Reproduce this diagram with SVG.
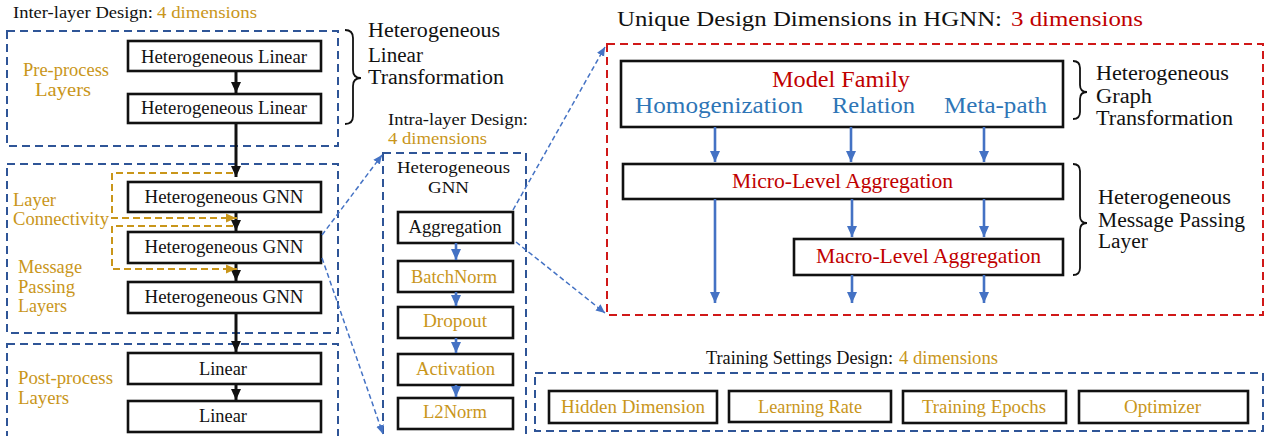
<svg xmlns="http://www.w3.org/2000/svg" width="1271" height="436" viewBox="0 0 1271 436">
<style>
text{font-family:"Liberation Serif","Times New Roman",serif;fill:#111}
.g{fill:#C9961A}
.r{fill:#C00000}
.lb{fill:#2E75B6}
.box{fill:#fff;stroke:#111;stroke-width:2.6}
.dbl{fill:none;stroke:#2F5597;stroke-width:2;stroke-dasharray:8 5}
.dred{fill:none;stroke:#D01818;stroke-width:2;stroke-dasharray:8 5}
.blk{fill:none;stroke:#111;stroke-width:3}
.blu{fill:none;stroke:#4472C4;stroke-width:2.6}
.gld{fill:none;stroke:#C9961A;stroke-width:2;stroke-dasharray:7 4}
.bd{fill:none;stroke:#4472C4;stroke-width:1.5;stroke-dasharray:5 3}
.br{fill:none;stroke:#111;stroke-width:1.8}
.c{text-anchor:middle}
</style>
<defs>
<marker id="ak" markerUnits="userSpaceOnUse" markerWidth="12" markerHeight="12" refX="11" refY="6" orient="auto"><path d="M0,1 L11,6 L0,11 Z" fill="#111"/></marker>
<marker id="ab" markerUnits="userSpaceOnUse" markerWidth="12" markerHeight="12" refX="11" refY="6" orient="auto"><path d="M0,1 L11,6 L0,11 Z" fill="#4472C4"/></marker>
<marker id="ag" markerUnits="userSpaceOnUse" markerWidth="12" markerHeight="12" refX="11" refY="6" orient="auto"><path d="M0,1.5 L10,6 L0,10.5 Z" fill="#C9961A"/></marker>
<marker id="abd" markerUnits="userSpaceOnUse" markerWidth="10" markerHeight="10" refX="9" refY="5" orient="auto"><path d="M0,1 L9,5 L0,9 Z" fill="#4472C4"/></marker>
</defs>

<g id="inter-layer">
<text x="13" y="18" font-size="16.5" textLength="140" lengthAdjust="spacingAndGlyphs">Inter-layer Design:</text>
<text x="157" y="18" font-size="16.5" class="g" textLength="100" lengthAdjust="spacingAndGlyphs">4 dimensions</text>
<rect class="dbl" x="7" y="31" width="331" height="115"/>
<rect class="dbl" x="7" y="164" width="331" height="169"/>
<rect class="dbl" x="7" y="344" width="331" height="100"/>
<text x="23" y="76" font-size="18" class="g" textLength="86" lengthAdjust="spacingAndGlyphs">Pre-process</text>
<text x="35" y="96" font-size="18" class="g" textLength="56" lengthAdjust="spacingAndGlyphs">Layers</text>
<text x="13" y="206" font-size="18" class="g" textLength="43" lengthAdjust="spacingAndGlyphs">Layer</text>
<text x="13" y="225" font-size="18" class="g" textLength="96" lengthAdjust="spacingAndGlyphs">Connectivity</text>
<text x="18" y="273" font-size="18" class="g" textLength="64" lengthAdjust="spacingAndGlyphs">Message</text>
<text x="18" y="293" font-size="18" class="g" textLength="57" lengthAdjust="spacingAndGlyphs">Passing</text>
<text x="18" y="312" font-size="18" class="g" textLength="49" lengthAdjust="spacingAndGlyphs">Layers</text>
<text x="18" y="384" font-size="18" class="g" textLength="95" lengthAdjust="spacingAndGlyphs">Post-process</text>
<text x="18" y="404" font-size="18" class="g" textLength="51" lengthAdjust="spacingAndGlyphs">Layers</text>
<path class="br" d="M345,30 Q353,30 353,38 L353,70 Q353,78 361,78 Q353,78 353,86 L353,116 Q353,124 345,124"/>
<text x="368" y="37" font-size="20.5" textLength="132" lengthAdjust="spacingAndGlyphs">Heterogeneous</text>
<text x="368" y="62" font-size="20.5" textLength="55" lengthAdjust="spacingAndGlyphs">Linear</text>
<text x="368" y="84" font-size="20.5" textLength="136" lengthAdjust="spacingAndGlyphs">Transformation</text>
</g>

<g id="pre1"><rect class="box" x="128" y="41" width="193" height="30"/><text class="c" x="224" y="63" font-size="18.5" textLength="166" lengthAdjust="spacingAndGlyphs">Heterogeneous Linear</text></g>
<g id="pre2"><rect class="box" x="128" y="94" width="193" height="29"/><text class="c" x="224" y="114" font-size="18.5" textLength="166" lengthAdjust="spacingAndGlyphs">Heterogeneous Linear</text></g>
<g id="gnn1"><rect class="box" x="128" y="182" width="193" height="30"/><text class="c" x="224" y="203" font-size="18.5" textLength="159" lengthAdjust="spacingAndGlyphs">Heterogeneous GNN</text></g>
<g id="gnn2"><rect class="box" x="128" y="232" width="193" height="31"/><text class="c" x="224" y="253" font-size="18.5" textLength="159" lengthAdjust="spacingAndGlyphs">Heterogeneous GNN</text></g>
<g id="gnn3"><rect class="box" x="128" y="282" width="193" height="31"/><text class="c" x="224" y="303" font-size="18.5" textLength="159" lengthAdjust="spacingAndGlyphs">Heterogeneous GNN</text></g>
<g id="post1"><rect class="box" x="128" y="353" width="193" height="31"/><text class="c" x="223" y="375" font-size="18.5" textLength="48" lengthAdjust="spacingAndGlyphs">Linear</text></g>
<g id="post2"><rect class="box" x="128" y="401" width="193" height="31"/><text class="c" x="223" y="422" font-size="18.5" textLength="48" lengthAdjust="spacingAndGlyphs">Linear</text></g>

<g id="intra-layer">
<text x="388" y="125" font-size="16.5" textLength="140" lengthAdjust="spacingAndGlyphs">Intra-layer Design:</text>
<text x="388" y="144" font-size="16.5" class="g" textLength="99" lengthAdjust="spacingAndGlyphs">4 dimensions</text>
<rect class="dbl" x="383" y="153" width="143" height="290"/>
<text x="397" y="173" font-size="17.5" textLength="113" lengthAdjust="spacingAndGlyphs">Heterogeneous</text>
<text x="428" y="193" font-size="17.5" textLength="41" lengthAdjust="spacingAndGlyphs">GNN</text>
</g>
<g id="aggregation"><rect class="box" x="398" y="212" width="115" height="31"/><text class="c" x="455" y="233" font-size="19.5" textLength="93" lengthAdjust="spacingAndGlyphs">Aggregation</text></g>
<g id="batchnorm"><rect class="box" x="398" y="261" width="115" height="31"/><text class="c g" x="454" y="283" font-size="18.5" textLength="86" lengthAdjust="spacingAndGlyphs">BatchNorm</text></g>
<g id="dropout"><rect class="box" x="398" y="307" width="115" height="31"/><text class="c g" x="455" y="327" font-size="18.5" textLength="64" lengthAdjust="spacingAndGlyphs">Dropout</text></g>
<g id="activation"><rect class="box" x="398" y="354" width="115" height="31"/><text class="c g" x="455.5" y="375" font-size="18.5" textLength="79" lengthAdjust="spacingAndGlyphs">Activation</text></g>
<g id="l2norm"><rect class="box" x="398" y="398" width="115" height="31"/><text class="c g" x="455" y="418" font-size="18.5" textLength="64" lengthAdjust="spacingAndGlyphs">L2Norm</text></g>

<g id="unique-dims">
<text x="617" y="26" font-size="22" textLength="385" lengthAdjust="spacingAndGlyphs">Unique Design Dimensions in HGNN:</text>
<text x="1011" y="26" font-size="22" class="r" textLength="132" lengthAdjust="spacingAndGlyphs">3 dimensions</text>
<rect class="dred" x="607" y="44" width="656" height="271"/>
<path class="br" d="M1073,61 Q1080,61 1080,68 L1080,85 Q1080,92 1087,92 Q1080,92 1080,99 L1080,112 Q1080,119 1073,119"/>
<text x="1096" y="80" font-size="20.5" textLength="133" lengthAdjust="spacingAndGlyphs">Heterogeneous</text>
<text x="1096" y="103" font-size="20.5" textLength="56" lengthAdjust="spacingAndGlyphs">Graph</text>
<text x="1096" y="125" font-size="20.5" textLength="137" lengthAdjust="spacingAndGlyphs">Transformation</text>
<path class="br" d="M1073,164 Q1080,164 1080,171 L1080,216 Q1080,223 1087,223 Q1080,223 1080,230 L1080,268 Q1080,275 1073,275"/>
<text x="1098" y="204" font-size="20.5" textLength="133" lengthAdjust="spacingAndGlyphs">Heterogeneous</text>
<text x="1098" y="227" font-size="20.5" textLength="147" lengthAdjust="spacingAndGlyphs">Message Passing</text>
<text x="1098" y="248" font-size="20.5" textLength="50" lengthAdjust="spacingAndGlyphs">Layer</text>
</g>
<g id="model-family"><rect class="box" x="621" y="61" width="442" height="66"/>
<text class="r" x="772" y="87" font-size="23" textLength="138" lengthAdjust="spacingAndGlyphs">Model Family</text>
<text class="lb" x="635" y="113" font-size="23" textLength="168" lengthAdjust="spacingAndGlyphs">Homogenization</text>
<text class="lb" x="832" y="113" font-size="23" textLength="83" lengthAdjust="spacingAndGlyphs">Relation</text>
<text class="lb" x="944" y="113" font-size="23" textLength="103" lengthAdjust="spacingAndGlyphs">Meta-path</text>
</g>
<g id="micro"><rect class="box" x="623" y="164" width="440" height="35"/><text class="r" x="732" y="188" font-size="22" textLength="221" lengthAdjust="spacingAndGlyphs">Micro-Level Aggregation</text></g>
<g id="macro"><rect class="box" x="794" y="239" width="269" height="36"/><text class="r" x="816" y="263" font-size="22" textLength="225" lengthAdjust="spacingAndGlyphs">Macro-Level Aggregation</text></g>

<g id="training">
<text x="706" y="364" font-size="18.5" textLength="187" lengthAdjust="spacingAndGlyphs">Training Settings Design:</text>
<text x="899" y="364" font-size="18.5" class="g" textLength="99" lengthAdjust="spacingAndGlyphs">4 dimensions</text>
<rect class="dbl" x="535" y="373" width="728" height="58"/>
</g>
<g id="hidden-dim"><rect class="box" x="549" y="391" width="168" height="32"/><text class="g" x="561" y="413" font-size="18.5" textLength="144" lengthAdjust="spacingAndGlyphs">Hidden Dimension</text></g>
<g id="learning-rate"><rect class="box" x="729" y="391" width="162" height="31"/><text class="g" x="758" y="413" font-size="18.5" textLength="104" lengthAdjust="spacingAndGlyphs">Learning Rate</text></g>
<g id="epochs"><rect class="box" x="903" y="391" width="163" height="32"/><text class="g" x="922" y="413" font-size="18.5" textLength="124" lengthAdjust="spacingAndGlyphs">Training Epochs</text></g>
<g id="optimizer"><rect class="box" x="1079" y="391" width="169" height="32"/><text class="g" x="1124" y="413" font-size="18.5" textLength="77" lengthAdjust="spacingAndGlyphs">Optimizer</text></g>

<g id="connectors">
<path class="blk" d="M236,71 V93" marker-end="url(#ak)"/>
<path class="blk" d="M236,123 V177" marker-end="url(#ak)"/>
<path class="blk" d="M236,212 V231" marker-end="url(#ak)"/>
<path class="blk" d="M236,263 V281" marker-end="url(#ak)"/>
<path class="blk" d="M236,313 V352" marker-end="url(#ak)"/>
<path class="blk" d="M236,384 V400" marker-end="url(#ak)"/>
<path class="gld" d="M233,173 H112 V218 H237" marker-end="url(#ag)"/>
<path class="gld" d="M233,226 H112 V269 H237" marker-end="url(#ag)"/>
<path class="blu" d="M456,243 V260" marker-end="url(#ab)"/>
<path class="blu" d="M456,292 V306" marker-end="url(#ab)"/>
<path class="blu" d="M456,338 V353" marker-end="url(#ab)"/>
<path class="blu" d="M456,385 V397" marker-end="url(#ab)"/>
<path class="bd" d="M322,235 L382,155" marker-end="url(#abd)"/>
<path class="bd" d="M322,258 L383,434" marker-end="url(#abd)"/>
<path class="bd" d="M513,210 L605,47" marker-end="url(#abd)"/>
<path class="bd" d="M516,242 L605,313" marker-end="url(#abd)"/>
<path class="blu" d="M715,127 V162" marker-end="url(#ab)"/>
<path class="blu" d="M851,127 V162" marker-end="url(#ab)"/>
<path class="blu" d="M984,127 V162" marker-end="url(#ab)"/>
<path class="blu" d="M715,199 V303" marker-end="url(#ab)"/>
<path class="blu" d="M852,199 V237" marker-end="url(#ab)"/>
<path class="blu" d="M984,199 V237" marker-end="url(#ab)"/>
<path class="blu" d="M852,275 V303" marker-end="url(#ab)"/>
<path class="blu" d="M984,275 V303" marker-end="url(#ab)"/>
</g>
</svg>
